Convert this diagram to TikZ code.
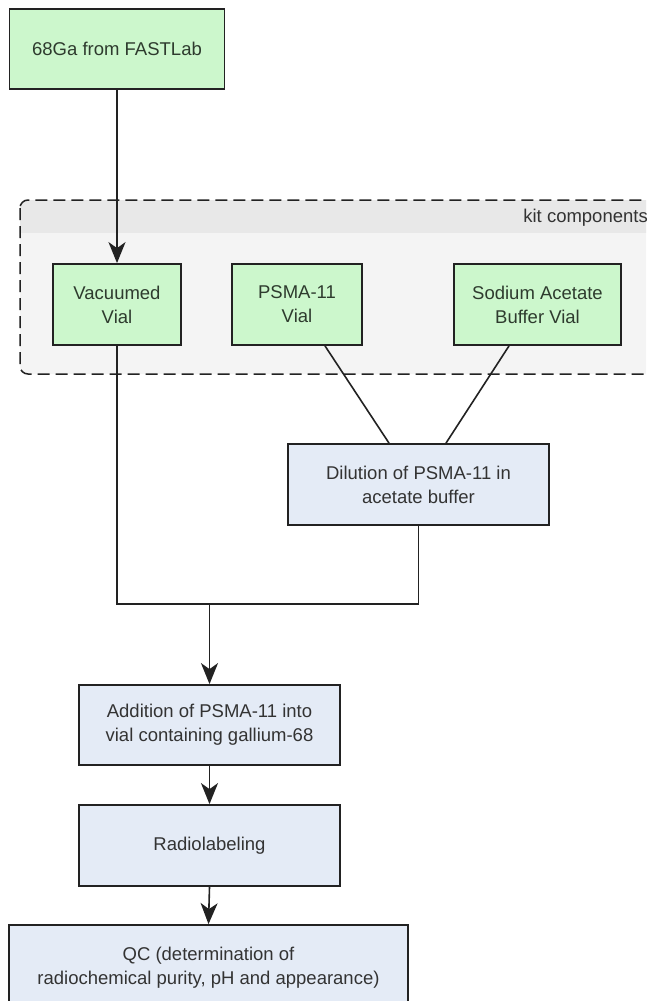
\documentclass[tikz,border=0pt]{standalone}
\usepackage{fontspec}
\setmainfont{Liberation Sans}
\usetikzlibrary{arrows.meta}
\definecolor{gfill}{HTML}{CCF7CC}
\definecolor{bfill}{HTML}{E4EBF6}
\definecolor{cbody}{HTML}{F4F4F4}
\definecolor{chead}{HTML}{E8E8E8}
\definecolor{edge}{HTML}{222222}
\definecolor{gtext}{HTML}{2E3B2E}
\definecolor{btext}{HTML}{333333}
\tikzset{
  box/.style={draw=edge, line width=1.8pt, inner sep=0pt, align=center,
    font=\fontsize{18.5}{24}\selectfont},
  gbox/.style={box, fill=gfill, text=gtext},
  bbox/.style={box, fill=bfill, text=btext},
  conn/.style={draw=edge, line width=1.6pt},
  arr/.style={conn, -{Stealth[length=21pt,width=17pt,inset=6pt]}},
}
\begin{document}
\begin{tikzpicture}[x=1pt,y=-1pt]
\useasboundingbox (0,0) rectangle (646,1001);
\clip (0,0) rectangle (646,1001);
\fill[white] (0,0) rectangle (646,1001);
% kit components container
\fill[cbody, rounded corners=8pt] (20,200) rectangle (670,374);
\begin{scope}
\clip (0,200) rectangle (670,232);
\fill[chead, rounded corners=8pt] (20,200) rectangle (670,260);
\end{scope}
\draw[edge, line width=1.5pt, dash pattern=on 12pt off 6pt, rounded corners=8pt] (20,200) rectangle (670,374);
\node[anchor=east, text=btext, font=\fontsize{18.5}{24}\selectfont, inner sep=0pt] (kit) at (648,218) {kit components};
% nodes
\node[gbox, minimum width=215pt, minimum height=80pt] (top) at (117,49) {68Ga from FASTLab};
\node[gbox, minimum width=128pt, minimum height=81pt] (vac) at (117,304.5) {Vacuumed\\Vial};
\node[gbox, minimum width=130pt, minimum height=81pt] (psma) at (297,304.5) {PSMA-11\\Vial};
\node[gbox, minimum width=167pt, minimum height=81pt] (sod) at (537.5,304.5) {Sodium Acetate\\Buffer Vial};
\node[bbox, minimum width=261pt, minimum height=81pt] (dil) at (418.5,484.5) {Dilution of PSMA-11 in\\acetate buffer};
\node[bbox, minimum width=261pt, minimum height=80pt] (add) at (209.5,725) {Addition of PSMA-11 into\\vial containing gallium-68};
\node[bbox, minimum width=261pt, minimum height=81pt] (rad) at (209.5,845.5) {Radiolabeling};
\node[bbox, minimum width=399pt, minimum height=85pt] (qc) at (208.5,967.5) {QC (determination of\\radiochemical purity, pH and appearance)};
\coordinate (j) at (209.5,604);
% connectors
\draw[arr] (top.south) -- (vac.north);
\draw[conn] ([xshift=28pt]psma.south) -- ([xshift=-29.5pt]dil.north);
\draw[conn] ([xshift=-28.5pt]sod.south) -- ([xshift=27.5pt]dil.north);
\draw[conn] (vac.south) |- (j) -| (dil.south);
\draw[arr] (j) -- (add.north);
\draw[arr] (add.south) -- (rad.north);
\draw[arr] (rad.south) -- (qc.north);
\end{tikzpicture}
\end{document}
